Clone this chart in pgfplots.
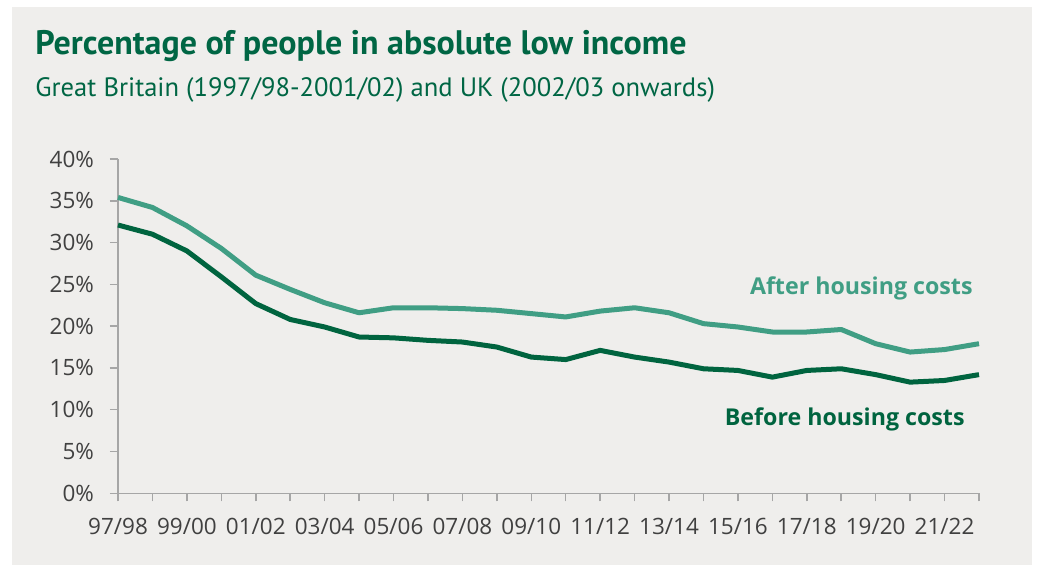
\documentclass[border=0pt]{standalone}
\usepackage{pgfplots}
\pgfplotsset{compat=1.18}
\usepackage{fontspec}
\setmainfont{Open Sans}
\newfontfamily\titlefont{PT Sans}
\definecolor{bg}{HTML}{EFEEEC}
\definecolor{bhc}{HTML}{00643F}
\definecolor{ahc}{HTML}{409E84}
\definecolor{ttl}{HTML}{006644}
\definecolor{tick}{HTML}{404040}
\definecolor{ax}{HTML}{A6A6A6}
\begin{document}
\begin{tikzpicture}
\fill[white] (0,0) rectangle (518.5bp,282.5bp);
\fill[bg] (6bp,0) rectangle (516bp,279bp);
\node[anchor=base west,inner sep=0,text=ttl,font=\titlefont\bfseries\fontsize{17bp}{20bp}\selectfont] at (17.5bp,255bp) {Percentage of people in absolute low income};
\node[anchor=base west,inner sep=0,text=ttl,font=\titlefont\fontsize{13.3bp}{16bp}\selectfont] at (17.5bp,234bp) {Great Britain (1997/98-2001/02) and UK (2002/03 onwards)};
\begin{axis}[
  at={(59bp,35.85bp)}, anchor=south west,
  scale only axis, width=430.5bp, height=167.15bp,
  xmin=0, xmax=25, ymin=0, ymax=40,
  axis x line*=bottom, axis y line*=left,
  axis line style={ax, line width=0.75bp},
  tick style={ax, line width=0.75bp},
  tick align=outside,
  major tick length=4bp,
  xtick={0,...,25},
  xticklabels={97/98,,99/00,,01/02,,03/04,,05/06,,07/08,,09/10,,11/12,,13/14,,15/16,,17/18,,19/20,,21/22,},
  ytick={0,5,...,40},
  yticklabels={0\%,5\%,10\%,15\%,20\%,25\%,30\%,35\%,40\%},
  ticklabel style={font=\fontsize{11.25bp}{13bp}\selectfont, text=tick},
  xticklabel style={yshift=-5bp},
  yticklabel style={xshift=-4.5bp},
  /pgf/number format/assume math mode=true,
  clip=false,
]
\addplot[ahc, line width=2.5bp, line join=round] coordinates {
(0,35.4)(1,34.2)(2,32.0)(3,29.3)(4,26.1)(5,24.4)(6,22.8)(7,21.6)(8,22.2)(9,22.2)
(10,22.1)(11,21.9)(12,21.5)(13,21.1)(14,21.8)(15,22.2)(16,21.6)(17,20.3)(18,19.9)(19,19.3)
(20,19.3)(21,19.6)(22,17.9)(23,16.9)(24,17.2)(25,17.9)};
\addplot[bhc, line width=2.5bp, line join=round] coordinates {
(0,32.1)(1,31.0)(2,29.0)(3,25.9)(4,22.7)(5,20.8)(6,19.9)(7,18.7)(8,18.6)(9,18.3)
(10,18.1)(11,17.5)(12,16.3)(13,16.0)(14,17.1)(15,16.3)(16,15.7)(17,14.9)(18,14.7)(19,13.9)
(20,14.7)(21,14.9)(22,14.2)(23,13.3)(24,13.5)(25,14.2)};
\end{axis}
\node[anchor=base east,inner sep=0,text=ahc,font=\bfseries\fontsize{11.6bp}{14bp}\selectfont] at (486.5bp,135bp) {After housing costs};
\node[anchor=base east,inner sep=0,text=bhc,font=\bfseries\fontsize{11.6bp}{14bp}\selectfont] at (482.5bp,69.65bp) {Before housing costs};
\end{tikzpicture}
\end{document}
